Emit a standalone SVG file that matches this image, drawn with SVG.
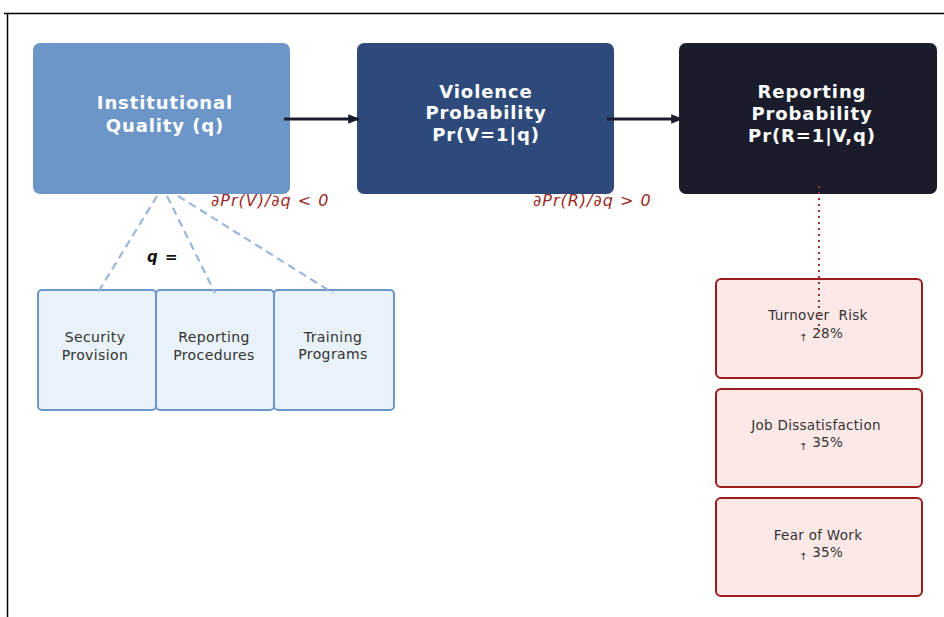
<svg xmlns="http://www.w3.org/2000/svg" width="944" height="617" viewBox="0 0 944 617">
<defs>
<marker id="arr" viewBox="0 0 10 10" refX="9" refY="5" markerWidth="4" markerHeight="4" orient="auto" markerUnits="strokeWidth">
<path d="M0,1 L10,5 L0,9 z" fill="#1a1c2c"/>
</marker>
<style>
.main{font-family:"DejaVu Sans",Verdana,sans-serif;font-weight:bold;font-size:18px;fill:#ffffff;text-anchor:middle;letter-spacing:0.9px}
.sub{font-family:"DejaVu Sans",Verdana,sans-serif;font-size:14px;fill:#333333;text-anchor:middle;letter-spacing:0.4px}
.eff{font-family:"DejaVu Sans",Verdana,sans-serif;font-size:13.5px;fill:#333333;text-anchor:middle;letter-spacing:0.3px}
.deriv{font-family:"DejaVu Sans",Verdana,sans-serif;font-style:italic;font-size:16px;fill:#9b2a2a;letter-spacing:1px}
.blue{fill:#e8f2f8;stroke:#6b96c7;stroke-width:2}
.red{fill:#fde8e8;stroke:#9b1c1c;stroke-width:2}
.dash{stroke:#9bb7da;stroke-width:2.2;stroke-dasharray:8,5;fill:none}
.flow{stroke:#1a1c2c;stroke-width:3;fill:none}
</style>
</defs>
<rect x="0" y="0" width="944" height="617" fill="#ffffff"/>
<g id="frame">
<line x1="4" y1="13.5" x2="944" y2="13.5" stroke="#000" stroke-width="1.5"/>
<line x1="7.5" y1="13" x2="7.5" y2="617" stroke="#000" stroke-width="1.5"/>
</g>
<g id="institutional">
<rect x="33" y="43" width="257" height="151" rx="7" fill="#6b96c7"/>
<text class="main" x="165" y="109">Institutional</text>
<text class="main" x="165" y="132">Quality (q)</text>
</g>
<g id="violence">
<rect x="357" y="43" width="257" height="151" rx="7" fill="#2e4a7a"/>
<text class="main" x="486" y="98">Violence</text>
<text class="main" x="486" y="119">Probability</text>
<text class="main" x="486" y="141">Pr(V=1|q)</text>
</g>
<g id="reporting">
<rect x="679" y="43" width="258" height="151" rx="7" fill="#1a1c2c"/>
<text class="main" x="812" y="98">Reporting</text>
<text class="main" x="812" y="120">Probability</text>
<text class="main" x="812" y="142">Pr(R=1|V,q)</text>
</g>
<g id="security">
<rect class="blue" x="38" y="290" width="118" height="120" rx="4"/>
<text class="sub" x="95" y="342">Security</text>
<text class="sub" x="95" y="360">Provision</text>
</g>
<g id="procedures">
<rect class="blue" x="156" y="290" width="118" height="120" rx="4"/>
<text class="sub" x="214" y="342">Reporting</text>
<text class="sub" x="214" y="360">Procedures</text>
</g>
<g id="training">
<rect class="blue" x="274" y="290" width="120" height="120" rx="4"/>
<text class="sub" x="333" y="342">Training</text>
<text class="sub" x="333" y="359">Programs</text>
</g>
<g id="turnover">
<rect class="red" x="716" y="279" width="206" height="99" rx="5"/>
<text class="eff" x="818" y="320" xml:space="preserve">Turnover  Risk</text>
<text class="eff" x="821" y="338"><tspan font-size="10" dy="3">↑</tspan><tspan dy="-3"> 28%</tspan></text>
</g>
<g id="dissatisfaction">
<rect class="red" x="716" y="389" width="206" height="98" rx="5"/>
<text class="eff" x="816" y="430">Job Dissatisfaction</text>
<text class="eff" x="821" y="447"><tspan font-size="10" dy="3">↑</tspan><tspan dy="-3"> 35%</tspan></text>
</g>
<g id="fear">
<rect class="red" x="716" y="498" width="206" height="98" rx="5"/>
<text class="eff" x="818" y="540">Fear of Work</text>
<text class="eff" x="821" y="557"><tspan font-size="10" dy="3">↑</tspan><tspan dy="-3"> 35%</tspan></text>
</g>
<g id="labels">
<text class="deriv" x="211" y="206">∂Pr(V)/∂q &lt; 0</text>
<text class="deriv" x="533" y="206">∂Pr(R)/∂q &gt; 0</text>
<text x="147" y="262" font-family="DejaVu Sans,Verdana,sans-serif" font-style="italic" font-weight="bold" font-size="15" fill="#111" letter-spacing="1">q =</text>
</g>
<g id="connectors">
<line class="flow" x1="284" y1="119" x2="359" y2="119" marker-end="url(#arr)"/>
<line class="flow" x1="607" y1="119" x2="682" y2="119" marker-end="url(#arr)"/>
<line class="dash" x1="157" y1="196" x2="97" y2="294"/>
<line class="dash" x1="167" y1="196" x2="215" y2="293"/>
<line class="dash" x1="178" y1="196" x2="333" y2="293"/>
<line x1="819" y1="186" x2="819" y2="332" stroke="#a03030" stroke-width="2" stroke-dasharray="2,4"/>
</g>
</svg>
